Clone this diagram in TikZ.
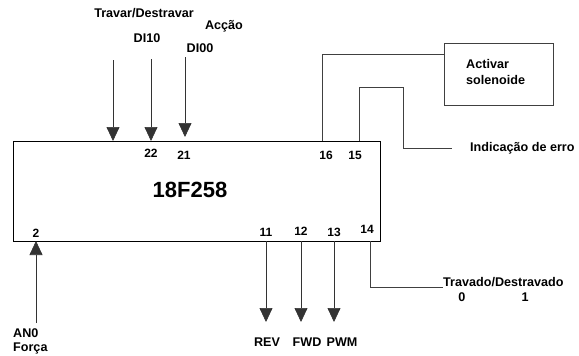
\documentclass[tikz,border=0pt]{standalone}
\usepackage{fontspec}
\setmainfont{Liberation Sans}
\usetikzlibrary{positioning,arrows.meta,calc}

\begin{document}
\begin{tikzpicture}[x=1pt, y=-1pt, font=\fontsize{12.6}{14}\selectfont\bfseries,
  sig/.style={-{Triangle[width=13pt,length=14pt]}, line width=0.7pt, draw=black!80},
  wire/.style={line width=0.7pt, draw=black!75},
  pin/.style={inner sep=0pt, font=\fontsize{12}{13}\selectfont\bfseries},
  lbl/.style={inner sep=0pt}]
\useasboundingbox (0,0) rectangle (579,356);
% microcontroller block
\node[draw, line width=0.8pt, minimum width=367pt, minimum height=100pt, anchor=north west,
  inner sep=0pt, outer sep=0pt] (ic) at (13,141) {};
\node[font=\fontsize{22}{24}\selectfont\bfseries] (icname) at (190,190) {18F258};
% pins on the block edges
\coordinate (ptd) at (113,141);
\foreach \n/\xx in {22/151,21/185,16/322,15/359} \coordinate (p\n) at (\xx,141);
\foreach \n/\xx in {2/36,11/266,12/301,13/334,14/370} \coordinate (p\n) at (\xx,241);
\foreach \n/\xx/\yy in {22/151/153,21/184/155,16/326/155,15/355/155,2/36/233,11/266/232,12/301/231,13/334/232,14/367/229}
  \node[pin] (n\n) at (\xx,\yy) {\n};
% digital inputs
\node[lbl] (tTD) at (144,13) {Travar/Destravar};
\node[lbl] (tAc) at (224,26) {Acção};
\node[lbl] (tDI10) at (147,38) {DI10};
\node[lbl] (tDI00) at (200,48) {DI00};
\coordinate (inTD) at (113,60);
\coordinate (inDI10) at (151,59);
\coordinate (inDI00) at (185,57);
\draw[sig] (inTD) -- (ptd);
\draw[sig] (inDI10) -- (p22);
\draw[sig, shorten >=4pt] (inDI00) -- (p21);
% analogue input
\node[lbl, anchor=west, align=left] (an0) at (13,341) {AN0\\Força};
\coordinate (inAN0) at (36,323);
\draw[sig] (inAN0) -- (p2);
% motor outputs
\foreach \n/\t/\xx in {11/REV/267,12/FWD/307,13/PWM/342} {
  \node[lbl] (o\t) at (\xx,342) {\t};
  \coordinate (e\n) at ($(p\n)+(0,81)$);
  \draw[sig] (p\n) -- (e\n);
}
% solenoid and error output
\node[draw, wire, minimum width=109pt, minimum height=62pt, anchor=north west, inner sep=0pt] (sol) at (444,43) {};
\node[lbl, anchor=west, align=left, font=\fontsize{12.6}{16}\selectfont\bfseries] (soltxt) at (466,72) {Activar\\solenoide};
\draw[wire] (p16) |- ($(sol.north west)+(0,11)$);
\coordinate (bend15) at (403,87);
\node[lbl, anchor=west] (err) at (470,148) {Indicação de erro};
\draw[wire] (p15) |- (bend15) |- ($(err.west)+(-18,0)$);
% lock state
\node[lbl, anchor=west] (trav) at (443,282) {Travado/Destravado};
\node[lbl] (t0) at (462,297) {0};
\node[lbl] (t1) at (525,297) {1};
\draw[wire] (p14) |- ($(trav.west)+(0,5)$);
\end{tikzpicture}
\end{document}
